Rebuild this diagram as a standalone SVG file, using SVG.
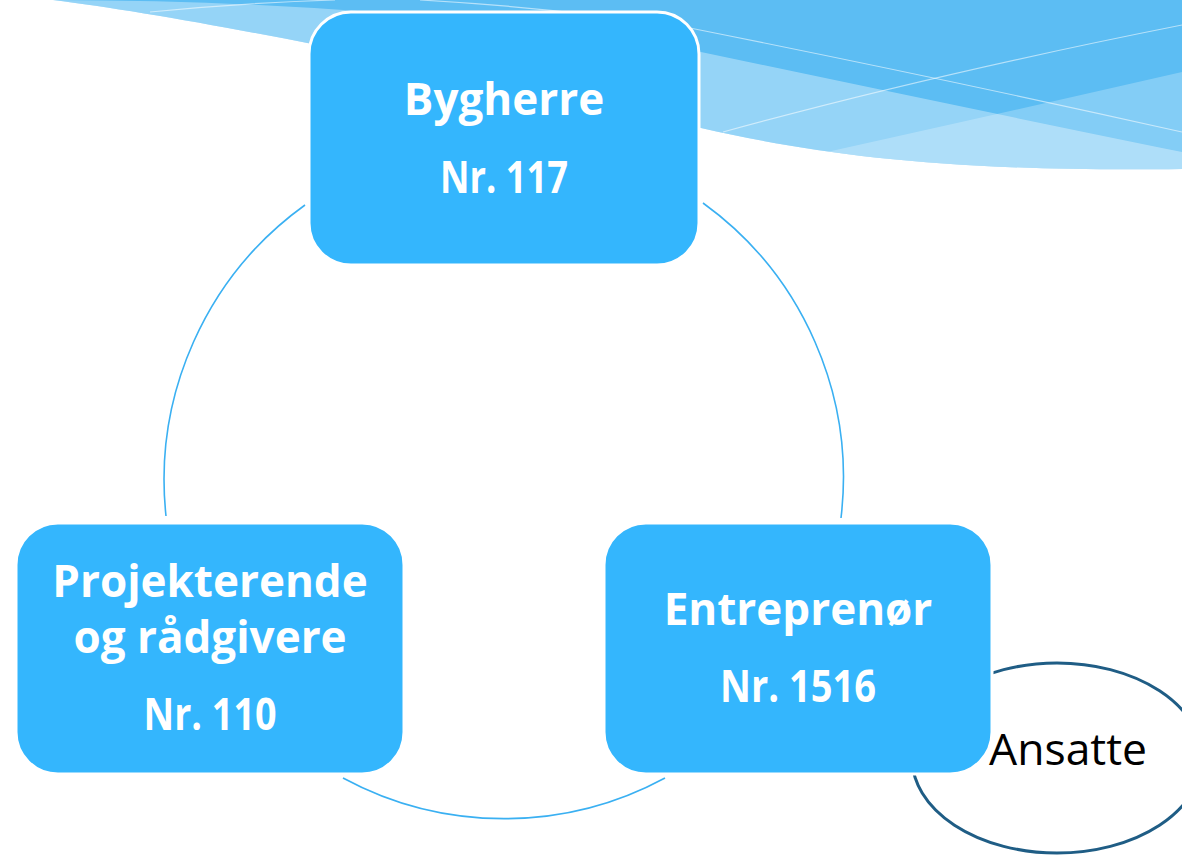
<svg xmlns="http://www.w3.org/2000/svg" width="1182" height="855" viewBox="0 0 1182 855">
<style>
.box{fill:#34b6fd;stroke:#ffffff;stroke-width:3}
.lbl{font-family:"Open Sans","Liberation Sans",sans-serif;font-weight:bold;font-size:44px;fill:#ffffff;text-anchor:middle}
.arc{fill:none;stroke:#3ab0f2;stroke-width:1.6}
.wl{fill:none;stroke:#ffffff;stroke-opacity:0.55;stroke-width:1.2}
</style>
<defs>
<clipPath id="waveClip">
<path d="M53 0 C200 18 500 80 701 128 C820 155 950 172 1182 169 L1182 0 Z"/>
</clipPath>
</defs>
<rect x="0" y="0" width="1182" height="855" fill="#ffffff"/>
<g id="wave" clip-path="url(#waveClip)">
<rect x="0" y="0" width="1182" height="200" fill="#5cbdf3"/>
<path d="M40 0 Q400 0 701 52 Q1000 115 1182 152 L1182 200 L0 200 Z" fill="#ffffff" fill-opacity="0.354"/>
<path d="M600 200 L700 180 Q950 125 1182 72 L1182 200 Z" fill="#ffffff" fill-opacity="0.242"/>
<path class="wl" d="M420 0 Q560 8 690 28 Q950 80 1182 132"/>
<path class="wl" d="M723 132 Q930 75 1182 25"/>
<path class="wl" d="M150 12 Q240 3 335 0"/>
</g>
<g id="connectors">
<path class="arc" d="M305 205 A339 339 0 0 0 166 516"/>
<path class="arc" d="M343 778 A339 339 0 0 0 665 778"/>
<path class="arc" d="M841 518 A339 339 0 0 0 703 203"/>
</g>
<g id="ansatte">
<ellipse cx="1057" cy="758" rx="145" ry="95" fill="#ffffff" stroke="#1f5d85" stroke-width="3"/>
</g>
<g id="bygherre">
<rect class="box" x="309" y="12" width="390" height="253" rx="42" ry="42"/>
<text class="lbl" x="504" y="115">Bygherre</text>
<text class="lbl" x="504" y="193" textLength="128" lengthAdjust="spacingAndGlyphs">Nr. 117</text>
</g>
<g id="projekterende">
<rect class="box" x="16" y="523" width="388" height="251" rx="42" ry="42"/>
<text class="lbl" x="210" y="597">Projekterende</text>
<text class="lbl" x="210" y="653">og rådgivere</text>
<text class="lbl" x="210" y="730" textLength="133" lengthAdjust="spacingAndGlyphs">Nr. 110</text>
</g>
<g id="entreprenor">
<rect class="box" x="604" y="523" width="388" height="251" rx="42" ry="42"/>
<text class="lbl" x="798" y="625">Entreprenør</text>
<text class="lbl" x="798" y="702" textLength="156" lengthAdjust="spacingAndGlyphs">Nr. 1516</text>
</g>
<g id="ansatte-label">
<text x="989" y="765" font-family="'Open Sans','Liberation Sans',sans-serif" font-size="44.5" fill="#000000">Ansatte</text>
</g>
</svg>
